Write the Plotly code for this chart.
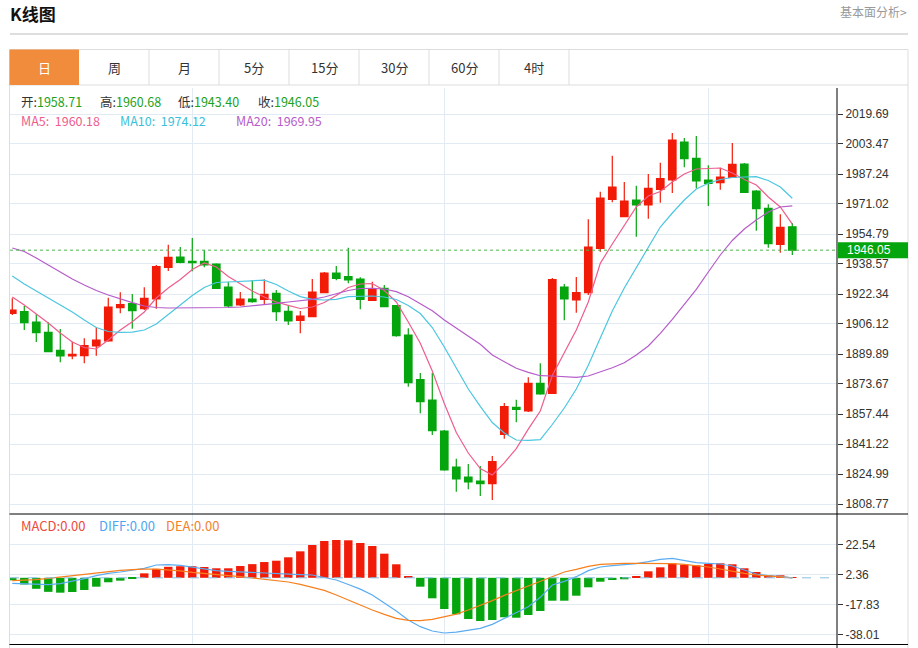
import plotly.graph_objects as go

W, H = 918, 648


def fx(px):
    return px / W


def fy(py):
    return 1 - py / H


# ---------------- data ----------------
days = list(range(66))

open_ = [1911.90, 1912.77, 1907.20, 1901.63, 1891.89, 1888.81, 1888.97, 1894.22, 1896.92, 1914.93,
         1917.09, 1914.39, 1919.64, 1936.78, 1942.35, 1940.03, 1940.03, 1938.57, 1926.13, 1916.39,
         1919.64, 1919.48, 1922.72, 1912.99, 1908.01, 1910.06, 1923.04, 1933.70, 1931.70, 1930.45,
         1918.93, 1925.42, 1916.01, 1900.17, 1875.99, 1865.01, 1848.25, 1828.78, 1823.37, 1821.21,
         1819.75, 1846.46, 1861.07, 1859.06, 1874.05, 1868.64, 1926.13, 1919.10, 1923.04, 1947.06,
         1973.56, 1964.15, 1973.18, 1970.48, 1978.97, 1983.99, 2004.55, 1995.73, 1983.99, 1982.54,
         1985.46, 1992.65, 1978.05, 1968.69, 1949.22, 1958.71]
high = [1920.01, 1915.85, 1911.36, 1907.04, 1903.41, 1896.54, 1898.38, 1904.33, 1920.34, 1923.26,
        1922.34, 1925.96, 1938.03, 1949.00, 1947.76, 1952.63, 1946.14, 1938.94, 1928.99, 1923.42,
        1929.75, 1930.29, 1924.50, 1915.85, 1913.15, 1930.45, 1934.24, 1937.48, 1947.38, 1931.37,
        1928.99, 1927.21, 1916.39, 1903.79, 1879.62, 1879.78, 1848.79, 1833.27, 1830.40, 1829.32,
        1834.73, 1863.39, 1865.18, 1877.29, 1884.86, 1930.99, 1927.75, 1931.54, 1962.74, 1977.67,
        1997.14, 1982.91, 1980.91, 1987.24, 1993.35, 2009.41, 2006.71, 2007.79, 1991.95, 1990.65,
        2004.01, 1993.19, 1978.59, 1970.85, 1965.45, 1960.68]
low = [1910.98, 1902.87, 1896.38, 1890.80, 1885.40, 1887.03, 1884.86, 1888.97, 1896.50, 1911.90,
       1903.57, 1913.69, 1914.39, 1934.78, 1938.94, 1934.62, 1936.78, 1925.05, 1915.15, 1915.85,
       1917.64, 1916.39, 1907.74, 1905.58, 1901.09, 1909.74, 1922.72, 1929.75, 1928.13, 1914.07,
       1918.56, 1915.15, 1899.25, 1872.21, 1857.82, 1846.08, 1826.80, 1815.42, 1816.72, 1813.09,
       1810.93, 1844.08, 1852.95, 1858.52, 1867.88, 1868.30, 1908.12, 1912.23, 1921.80, 1945.22,
       1971.94, 1963.82, 1953.33, 1963.07, 1971.72, 1976.96, 1990.86, 1979.51, 1969.93, 1978.75,
       1985.20, 1976.96, 1956.58, 1947.38, 1944.68, 1943.40]
close = [1913.69, 1906.82, 1901.41, 1891.14, 1888.81, 1889.73, 1894.38, 1897.46, 1915.31, 1916.55,
         1913.31, 1920.01, 1937.11, 1942.19, 1939.49, 1939.27, 1938.03, 1925.42, 1915.85, 1919.64,
         1918.18, 1922.18, 1912.77, 1907.74, 1910.44, 1923.42, 1933.70, 1930.83, 1929.91, 1919.48,
         1925.05, 1915.47, 1899.79, 1874.37, 1864.09, 1848.41, 1827.16, 1822.29, 1820.67, 1819.75,
         1831.64, 1861.39, 1859.98, 1874.05, 1868.26, 1930.08, 1919.64, 1923.04, 1947.76, 1974.26,
         1980.21, 1972.64, 1970.48, 1979.51, 1984.70, 2005.63, 1995.52, 1983.46, 1982.21, 1985.62,
         1992.49, 1977.34, 1968.47, 1949.55, 1958.41, 1946.05]

ma5 = [1920.72, 1916.39, 1911.53, 1906.66, 1901.25, 1896.38, 1893.41, 1892.60, 1897.46, 1902.87,
       1907.36, 1912.61, 1920.18, 1925.59, 1930.18, 1935.59, 1939.11, 1936.94, 1931.81, 1927.75,
       1923.97, 1920.72, 1918.02, 1916.23, 1914.50, 1915.31, 1917.75, 1921.53, 1925.86, 1927.75,
       1927.97, 1924.23, 1918.02, 1907.20, 1895.68, 1880.70, 1863.12, 1847.44, 1836.35, 1827.97,
       1824.46, 1831.05, 1838.73, 1849.23, 1859.07, 1878.27, 1890.17, 1902.87, 1918.02, 1938.94,
       1949.38, 1959.12, 1969.40, 1975.35, 1977.78, 1982.91, 1987.24, 1989.95, 1990.38, 1990.49,
       1987.78, 1984.27, 1981.29, 1974.80, 1969.40, 1960.18]
ma10 = [1932.08, 1927.75, 1923.96, 1920.18, 1916.39, 1912.61, 1908.28, 1904.22, 1902.06, 1901.57,
        1901.68, 1902.87, 1906.12, 1911.25, 1916.39, 1921.53, 1925.86, 1928.56, 1928.83, 1929.21,
        1929.59, 1929.80, 1927.48, 1923.96, 1920.94, 1919.42, 1919.10, 1919.48, 1920.88, 1920.99,
        1921.26, 1920.72, 1919.37, 1916.12, 1911.80, 1904.22, 1893.68, 1882.32, 1870.97, 1861.61,
        1852.85, 1847.17, 1843.38, 1843.22, 1843.54, 1851.76, 1860.68, 1870.97, 1883.78, 1898.55,
        1913.15, 1925.59, 1936.67, 1947.22, 1958.58, 1966.15, 1973.18, 1979.13, 1982.21, 1984.27,
        1985.35, 1985.62, 1985.78, 1983.72, 1980.21, 1974.12]
ma20 = [1947.22, 1945.33, 1941.81, 1938.03, 1934.24, 1930.45, 1927.21, 1924.23, 1921.80, 1919.64,
        1917.64, 1915.85, 1915.04, 1914.77, 1914.77, 1914.88, 1914.93, 1914.93, 1915.04, 1915.31,
        1915.85, 1916.55, 1917.31, 1918.02, 1918.67, 1919.48, 1920.72, 1922.61, 1924.23, 1925.32,
        1925.42, 1925.05, 1923.59, 1920.88, 1917.31, 1913.31, 1908.28, 1903.79, 1899.25, 1895.14,
        1889.35, 1885.72, 1882.15, 1879.99, 1878.15, 1877.99, 1877.62, 1877.29, 1877.99, 1880.16,
        1882.48, 1885.19, 1889.35, 1894.22, 1901.09, 1908.66, 1916.94, 1924.88, 1934.24, 1943.44,
        1951.28, 1957.50, 1962.37, 1966.69, 1969.40, 1969.95]

macd = [-1.7, -4.5, -7.4, -9.45, -10.0, -9.55, -8.2, -5.97, -3.0, -1.92,
        -0.57, 3.0, 6.0, 7.4, 7.8, 7.8, 7.27, 6.4, 6.4, 7.94,
        9.2, 10.6, 11.5, 13.8, 17.8, 22.07, 24.76, 25.43, 25.23, 23.41,
        21.4, 16.22, 9.09, 1.02, -5.98, -13.79, -20.99, -24.55, -27.7, -29.05,
        -28.38, -26.57, -26.84, -25.02, -22.33, -15.4, -15.4, -12.04, -6.39, -2.62,
        -1.48, -1.01, 1.21, 4.37, 7.06, 9.75, 8.81, 8.41, 9.29, 9.75,
        9.09, 6.4, 3.91, 1.69, 1.69, 0.3]
diff = [-3.72, -4.16, -4.61, -4.61, -3.94, -2.37, -0.58, 1.44, 3.01, 3.91,
        5.03, 6.37, 8.6, 8.9, 8.3, 7.05, 5.93, 4.80, 4.36, 3.91,
        3.68, 3.24, 2.79, 2.34, 2.11, 1.89, 0.32, -1.5, -4.5, -7.6,
        -11.57, -16.73, -22.33, -28.39, -32.87, -35.79, -37.13, -36.6, -35.34, -33.99,
        -31.3, -27.49, -23.68, -19.42, -13.14, -4.84, -2.38, 0.76, 4.8, 7.27,
        8.16, 8.84, 9.51, 10.85, 12.42, 13.1, 11.53, 10.18, 9.73, 9.29,
        7.94, 5.25, 2.56, 1.44, 0.99, 0.0]
dea = [-1.92, -1.7, -1.25, -0.35, 0.54, 1.67, 2.56, 3.68, 4.36, 5.03,
       5.48, 5.9, 5.8, 5.4, 4.7, 3.68, 2.79, 2.11, 1.44, 0.77,
       -0.13, -0.80, -1.7, -2.82, -4.39, -6.18, -8.43, -11.57, -15.0, -18.6,
       -21.66, -24.57, -27.27, -28.61, -28.83, -27.94, -26.15, -24.46, -21.66, -18.74,
       -15.38, -11.79, -8.65, -5.52, -2.15, 1.21, 3.9, 5.7, 7.72, 9.06,
       9.51, 9.73, 9.73, 9.73, 9.73, 9.51, 9.06, 8.39, 7.27, 5.92,
       4.35, 3.01, 1.88, 1.21, 0.76, 0.0]

price_ticks = [2019.69, 2003.47, 1987.24, 1971.02, 1954.79, 1938.57, 1922.34,
               1906.12, 1889.89, 1873.67, 1857.44, 1841.22, 1824.99, 1808.77]
macd_ticks = [22.54, 2.36, -17.83, -38.01]
month_marks = [15, 36, 58]
tabs = ["日", "周", "月", "5分", "15分", "30分", "60分", "4时"]

last_open, last_high, last_low, last_close = 1958.71, 1960.68, 1943.40, 1946.05
ma5_last, ma10_last, ma20_last = 1960.18, 1974.12, 1969.95
macd_last, diff_last, dea_last = 0.00, 0.00, 0.00

# ---------------- styles ----------------
RED = "#F21B08"
GREEN = "#05A50E"
C_MA5 = "#EE5D8C"
C_MA10 = "#4BC6E0"
C_MA20 = "#B65CCA"
C_DIFF = "#5AACF2"
C_DEA = "#F7801E"
GRID = "#E2EBF3"
CJK = "Noto Sans CJK SC"
NUMF = "Liberation Sans"

fig = go.Figure()

fig.add_trace(go.Candlestick(
    x=days, open=open_, high=high, low=low, close=close,
    increasing=dict(line=dict(color=RED, width=1.2), fillcolor=RED),
    decreasing=dict(line=dict(color=GREEN, width=1.2), fillcolor=GREEN),
    whiskerwidth=0, xaxis="x", yaxis="y", showlegend=False, hoverinfo="skip"))

for ser, col in ((ma5, C_MA5), (ma10, C_MA10), (ma20, C_MA20)):
    fig.add_trace(go.Scatter(x=days, y=ser, mode="lines", line=dict(color=col, width=1.2),
                             xaxis="x", yaxis="y", showlegend=False, hoverinfo="skip"))

fig.add_trace(go.Bar(x=days, y=macd, width=0.7,
                     marker=dict(color=[RED if v >= 0 else GREEN for v in macd], line=dict(width=0)),
                     xaxis="x2", yaxis="y2", showlegend=False, hoverinfo="skip"))
fig.add_trace(go.Scatter(x=days, y=diff, mode="lines", line=dict(color=C_DIFF, width=1.2),
                         xaxis="x2", yaxis="y2", showlegend=False, hoverinfo="skip"))
fig.add_trace(go.Scatter(x=days, y=dea, mode="lines", line=dict(color=C_DEA, width=1.2),
                         xaxis="x2", yaxis="y2", showlegend=False, hoverinfo="skip"))

xr = [-0.19, 68.725]
price_range = [1803.36, 2033.75]
macd_range = [-44.53, 42.92]

axis_common = dict(showgrid=True, gridcolor=GRID, gridwidth=1, zeroline=False, showline=False)

fig.update_layout(
    width=W, height=H, autosize=False,
    margin=dict(l=0, r=0, t=0, b=0),
    paper_bgcolor="white", plot_bgcolor="white",
    boxgap=0.22, boxgroupgap=0.2,
    bargap=0.3,
    xaxis=dict(domain=[fx(10), fx(837)], range=xr, anchor="y", tickvals=month_marks,
               showticklabels=False, ticks="", rangeslider=dict(visible=False), **axis_common),
    xaxis2=dict(domain=[fx(10), fx(837)], range=xr, anchor="y2", tickvals=month_marks,
                showticklabels=False, ticks="", matches="x", **axis_common),
    yaxis=dict(domain=[fy(514), fy(88)], range=price_range, anchor="x", side="right",
               tickvals=price_ticks, ticktext=[f"{v:.2f}" for v in price_ticks],
               ticks="outside", ticklen=5, tickcolor="#333", tickwidth=1,
               tickfont=dict(family=NUMF, size=12, color="#333"), **axis_common),
    yaxis2=dict(domain=[fy(644), fy(514)], range=macd_range, anchor="x2", side="right",
                tickvals=macd_ticks, ticktext=[f"{v:.2f}" for v in macd_ticks],
                ticks="outside", ticklen=5, tickcolor="#333", tickwidth=1,
                tickfont=dict(family=NUMF, size=12, color="#333"), **axis_common),
)

shapes = []


def pline(x0, y0, x1, y1, color, width=1, dash=None):
    ln = dict(color=color, width=width)
    if dash:
        ln["dash"] = dash
    shapes.append(dict(type="line", xref="paper", yref="paper", x0=fx(x0), y0=fy(y0),
                       x1=fx(x1), y1=fy(y1), line=ln, layer="above"))


# header
pline(10, 34, 908, 34, "#D3D3D3", 1.5)
# tab bar
shapes.append(dict(type="rect", xref="paper", yref="paper", x0=fx(9.5), x1=fx(908), y0=fy(85),
                   y1=fy(49.5), line=dict(color="#DDDDDD", width=1), fillcolor="white", layer="below"))
shapes.append(dict(type="rect", xref="paper", yref="paper", x0=fx(9.5), x1=fx(79), y0=fy(85),
                   y1=fy(49.5), line=dict(width=0), fillcolor="#F28C3D", layer="above"))
for i in range(1, 8):
    xx = 79 + 70 * i
    pline(xx, 49.5, xx, 85, "#DDDDDD")
# chart frame
pline(9.5, 85, 9.5, 648, "#DDDDDD")
pline(908, 85, 908, 648, "#DDDDDD")
pline(837, 88, 837, 648, "#000000")
pline(9.5, 514, 908, 514, "#000000")
pline(9.5, 644.5, 908, 644.5, "#000000")
# last price dotted line + label box
shapes.append(dict(type="line", xref="x domain", yref="y", x0=0, x1=1, y0=last_close, y1=last_close,
                   line=dict(color="#4DB34D", width=1, dash="dot"), layer="above"))
shapes.append(dict(type="rect", xref="paper", yref="y", ysizemode="pixel", yanchor=last_close,
                   x0=fx(838), x1=fx(908), y0=-8, y1=8, fillcolor="#05A50E",
                   line=dict(width=0), layer="above"))
# MACD zero line
shapes.append(dict(type="line", xref="x2 domain", yref="y2", x0=0, x1=1, y0=0, y1=0,
                   line=dict(color="#86BFE3", width=1, dash="dash"), layer="above"))

annotations = []


def txt(x, y, text, color="#333", size=13, family=CJK, xanchor="left"):
    annotations.append(dict(xref="paper", yref="paper", x=fx(x), y=fy(y), text=text,
                            showarrow=False, xanchor=xanchor, yanchor="middle", borderpad=0,
                            font=dict(family=family, size=size, color=color)))


txt(9, 14, "<b>K线图</b>", color="#111", size=17)
txt(908, 12, "基本面分析>", color="#999", size=12, xanchor="right")
for i, t in enumerate(tabs):
    annotations.append(dict(xref="paper", yref="paper", x=fx(44 + 70 * i), y=fy(67.5), text=t,
                            showarrow=False, xanchor="center", yanchor="middle",
                            font=dict(family=CJK, size=13, color="white" if i == 0 else "#333")))

VAL_GREEN = "#1CA21C"
ohlc_items = [("开:", last_open, 20), ("高:", last_high, 99),
              ("低:", last_low, 177), ("收:", last_close, 257)]
for lab, v, xl in ohlc_items:
    txt(xl, 101.5, f"{lab}<span style='color:{VAL_GREEN}'>{v:.2f}</span>", color="#333", size=12.5)

ma_items = [("MA5", ma5_last, C_MA5, 20), ("MA10", ma10_last, "#3BBFDA", 119),
            ("MA20", ma20_last, C_MA20, 235)]
for lab, v, col, xl in ma_items:
    txt(xl, 120.5, f"{lab}:&nbsp;&nbsp;{v:.2f}", color=col, size=12.5)

txt(20, 525, f"MACD:{macd_last:.2f}", color="#EC4A3C", size=13)
txt(98, 525, f"DIFF:{diff_last:.2f}", color="#4DA6F0", size=13)
txt(165, 525, f"DEA:{dea_last:.2f}", color="#F5812B", size=13)

annotations.append(dict(xref="paper", yref="y", x=fx(845), y=last_close, text=f"{last_close:.2f}",
                        showarrow=False, xanchor="left", yanchor="middle",
                        font=dict(family=NUMF, size=12, color="white")))

fig.update_layout(shapes=shapes, annotations=annotations)

fig.write_html("out.html", config={"displayModeBar": False},
               post_script="document.body.style.margin='0px';document.body.style.padding='0px';"
                           "document.body.style.overflow='hidden';")
